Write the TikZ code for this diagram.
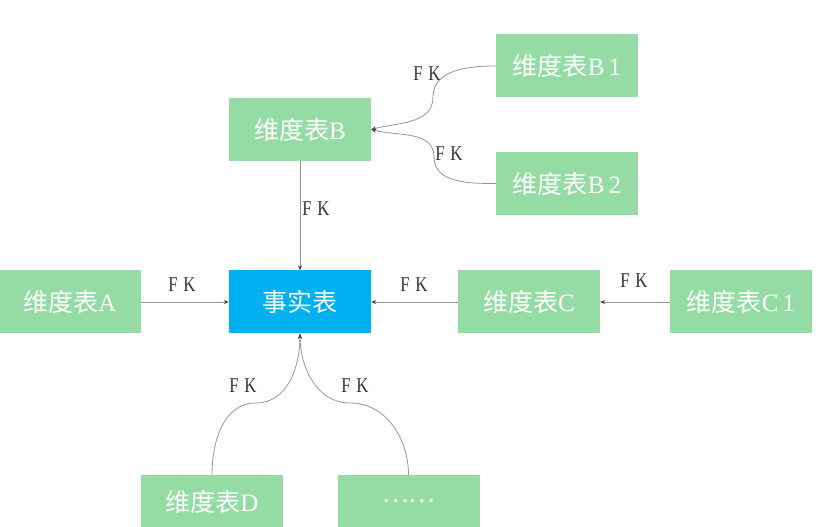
\documentclass[tikz,border=0pt]{standalone}
\usepackage{fontspec}
\setmainfont{Liberation Serif}
\newfontfamily\cjk{Noto Sans CJK SC}
\usepackage{xcolor}
\definecolor{dimgreen}{RGB}{148,220,164}
\definecolor{factblue}{RGB}{0,176,240}
\definecolor{linkgray}{RGB}{150,150,150}
\usetikzlibrary{arrows.meta}
\newcommand{\dimtab}[1]{{\cjk 维度表}#1}
\newcommand{\fklabel}{\scalebox{0.8}[1]{F\,\,K}}

\begin{document}
\begin{tikzpicture}[x=1pt,y=1pt,
dimbox/.style={fill=dimgreen,inner sep=0pt,minimum width=142pt,minimum height=63pt,text=white,font=\fontsize{25}{25}\selectfont},
factbox/.style={dimbox,fill=factblue},
lowbox/.style={dimbox,minimum height=53pt},
fk/.style={font=\fontsize{21}{21}\selectfont,text=black!80,inner sep=1pt},
link/.style={-{Stealth[length=5pt,width=4pt,color=black!75]},draw=linkgray,line width=0.8pt}]
\useasboundingbox (0,0) rectangle (820,527);
\node[factbox] (fact) at (300,225) {\cjk 事实表};
\node[dimbox]  (a)  at (70,225)    {\dimtab{A}};
\node[dimbox]  (b)  at (300,397.5) {\dimtab{B}};
\node[dimbox]  (b1) at (567,461)   {\dimtab{B\,1}};
\node[dimbox]  (b2) at (567,343.5) {\dimtab{B\,2}};
\node[dimbox]  (c)  at (529,225)   {\dimtab{C}};
\node[dimbox]  (c1) at (741,225)   {\dimtab{C\,1}};
\node[lowbox]  (d)  at (212,25.5)  {\dimtab{D}};
\node[lowbox]  (more) at (408.5,25.5) {\cjk ……};
\coordinate (kB1) at (433,430);
\coordinate (kB2) at (434,370);
\coordinate (kD) at (256,124);
\coordinate (kE) at (350,124);
% snowflake branch of B
\draw[link] (b1.west) to[out=180,in=90] (kB1) to[out=270,in=15] (b.east);
\draw[link] (b2.west) to[out=180,in=270] (kB2) to[out=90,in=-15] (b.east);
\node[fk] (fkb1) at (427,453) {\fklabel};
\node[fk] (fkb2) at (449,373) {\fklabel};
% star links into the fact table
\draw[link] (b.south) -- (fact.north);
\draw[link] (a.east) -- (fact.west);
\draw[link] (c.west) -- (fact.east);
\draw[link] (c1.west) -- (c.east);
\draw[link] (d.north) to[out=90,in=180] (kD) to[out=0,in=270] (fact.south);
\draw[link] (more.north) to[out=90,in=0] (kE) to[out=180,in=270] (fact.south);
\node[fk] (fkb) at (316,318) {\fklabel};
\node[fk] (fka) at (182,242) {\fklabel};
\node[fk] (fkc) at (414,242) {\fklabel};
\node[fk] (fkc1) at (634,246) {\fklabel};
\node[fk] (fkd) at (243,141) {\fklabel};
\node[fk] (fke) at (355,141) {\fklabel};
\end{tikzpicture}
\end{document}
